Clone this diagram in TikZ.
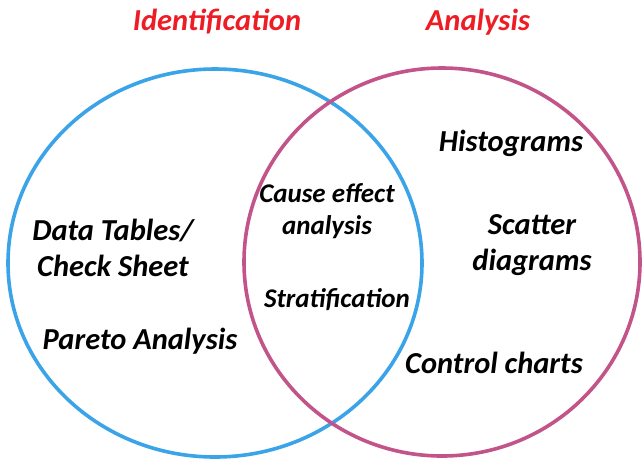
\documentclass[tikz,border=0pt]{standalone}
\usepackage{fontspec}
\setmainfont{Carlito}
\usepackage{tikz}

\definecolor{idblue}{HTML}{3BA3E8}
\definecolor{anpink}{HTML}{C2548A}
\definecolor{titred}{HTML}{EE1C25}

\begin{document}
\begin{tikzpicture}[x=1pt, y=-1pt,
    lbl/.style={font=\fontsize{30.5}{36}\selectfont\bfseries\itshape, align=center, inner sep=0pt},
    midlbl/.style={lbl, font=\fontsize{27}{32}\selectfont\bfseries\itshape},
    ttl/.style={lbl, text=titred}]
\useasboundingbox (0,0) rectangle (642,459);
%
\draw [idblue, line width=3.6pt] (215, 263) ellipse [x radius=207, y radius=194];
\draw [anpink, line width=3.6pt] (442, 262) ellipse [x radius=198, y radius=194];
%
\node [ttl] (ident) at (217, 22) {Identification};
\node [ttl] (anal) at (478, 22) {Analysis};
%
\node [lbl] (datatab) at (113, 248) {Data Tables/\\Check Sheet};
\node [lbl] (pareto) at (140, 341) {Pareto Analysis};
\node [midlbl] (cause) at (327, 211) {Cause effect\\analysis};
\node [midlbl] (strat) at (337, 300) {Stratification};
\node [lbl] (histo) at (511, 143) {Histograms};
\node [lbl] (scatter) at (532, 245) {Scatter\\diagrams};
\node [lbl] (control) at (494, 363) {Control charts};
%%%%%%%%%%%%%%%%%%%%%%%%%%%%%%%
\end{tikzpicture}
\end{document}
